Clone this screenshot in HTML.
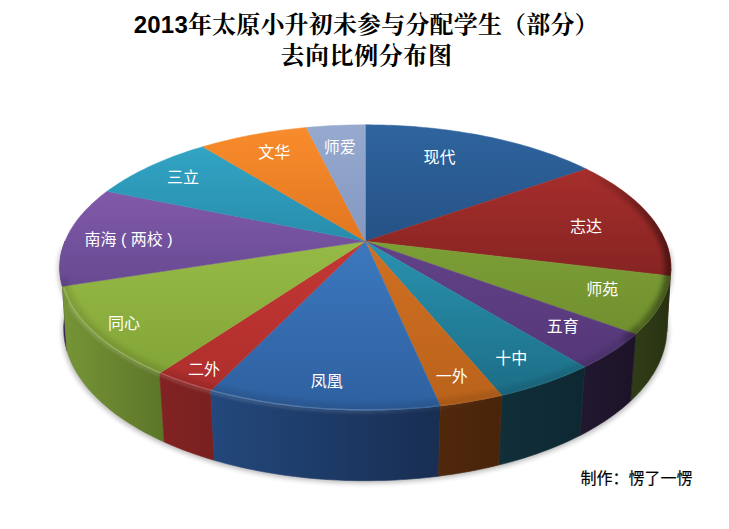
<!DOCTYPE html>
<html lang="zh-CN">
<head>
<meta charset="utf-8">
<title>2013年太原小升初未参与分配学生（部分）去向比例分布图</title>
<style>
html,body{margin:0;padding:0;background:#fff;}
body{width:729px;height:529px;overflow:hidden;font-family:"Liberation Sans",sans-serif;}
svg{display:block;}
.rt{font-family:"Liberation Sans","Noto Sans CJK SC",sans-serif;}
.tt{font-family:"Liberation Sans","Noto Serif CJK SC",serif;}
</style>
</head>
<body>
<svg width="729" height="529" viewBox="0 0 729 529">
<defs>
<filter id="blur" x="-20%" y="-20%" width="140%" height="140%"><feGaussianBlur stdDeviation="2.5"/></filter>
<filter id="blur3" x="-20%" y="-20%" width="140%" height="140%"><feGaussianBlur stdDeviation="2.5"/></filter>
<filter id="blur2" x="-5%" y="-20%" width="110%" height="140%"><feGaussianBlur stdDeviation="1"/></filter>
<linearGradient id="topG" x1="0" y1="0" x2="0" y2="1"><stop offset="0" stop-color="#fff" stop-opacity="0"/><stop offset="1" stop-color="#fff" stop-opacity="0"/></linearGradient><linearGradient id="rimG" gradientUnits="userSpaceOnUse" x1="60" y1="0" x2="670" y2="0"><stop offset="0" stop-color="#fff" stop-opacity="0.22"/><stop offset="0.5" stop-color="#fff" stop-opacity="0.2"/><stop offset="0.66" stop-color="#fff" stop-opacity="0.03"/><stop offset="1" stop-color="#fff" stop-opacity="0"/></linearGradient><linearGradient id="sd1_0" gradientUnits="userSpaceOnUse" x1="670.4" y1="0" x2="670.8" y2="0"><stop offset="0" stop-color="#701e1e"/><stop offset="1" stop-color="#701e1e"/></linearGradient>
<linearGradient id="sd9_162" gradientUnits="userSpaceOnUse" x1="60.2" y1="0" x2="62.4" y2="0"><stop offset="0" stop-color="#3c285a"/><stop offset="1" stop-color="#3c285a"/></linearGradient>
<linearGradient id="sd2_11" gradientUnits="userSpaceOnUse" x1="635.6" y1="0" x2="670.4" y2="0"><stop offset="0" stop-color="#303c17"/><stop offset="1" stop-color="#283212"/></linearGradient>
<linearGradient id="sd8_125" gradientUnits="userSpaceOnUse" x1="62.4" y1="0" x2="159.7" y2="0"><stop offset="0" stop-color="#769536"/><stop offset="1" stop-color="#5d7729"/></linearGradient>
<linearGradient id="sd3_36" gradientUnits="userSpaceOnUse" x1="584.7" y1="0" x2="635.6" y2="0"><stop offset="0" stop-color="#21172f"/><stop offset="1" stop-color="#1c1328"/></linearGradient>
<linearGradient id="sd4_51" gradientUnits="userSpaceOnUse" x1="501.8" y1="0" x2="584.7" y2="0"><stop offset="0" stop-color="#112f39"/><stop offset="1" stop-color="#0e2832"/></linearGradient>
<linearGradient id="sd7_115" gradientUnits="userSpaceOnUse" x1="159.7" y1="0" x2="210.7" y2="0"><stop offset="0" stop-color="#822222"/><stop offset="1" stop-color="#7a2020"/></linearGradient>
<linearGradient id="sd6_78" gradientUnits="userSpaceOnUse" x1="210.7" y1="0" x2="440.3" y2="0"><stop offset="0" stop-color="#23487c"/><stop offset="1" stop-color="#182e52"/></linearGradient>
<linearGradient id="sd5_67" gradientUnits="userSpaceOnUse" x1="440.3" y1="0" x2="501.8" y2="0"><stop offset="0" stop-color="#50280c"/><stop offset="1" stop-color="#48240a"/></linearGradient>
<clipPath id="sideclip"><path d="M665.6 241.3 L666.5 243.7 L667.3 246.1 L668.1 248.6 L668.7 251.0 L669.3 253.5 L669.8 256.0 L670.2 258.5 L670.5 261.0 L670.7 263.5 L670.8 266.0 L670.8 268.6 L670.7 271.1 L670.5 273.7 L670.2 276.2 L669.9 278.8 L669.4 281.4 L668.8 283.9 L668.1 286.5 L667.3 289.1 L666.4 291.7 L665.4 294.2 L664.3 296.8 L663.1 299.4 L661.8 302.0 L660.4 304.5 L658.9 307.1 L657.3 309.6 L655.5 312.2 L653.7 314.7 L651.7 317.3 L649.7 319.8 L647.5 322.3 L645.2 324.8 L642.8 327.3 L640.3 329.8 L637.7 332.2 L635.0 334.7 L632.2 337.1 L629.3 339.5 L626.2 341.9 L623.1 344.2 L619.8 346.6 L616.5 348.9 L613.0 351.2 L609.4 353.5 L605.7 355.7 L602.0 357.9 L598.1 360.1 L594.1 362.2 L590.0 364.3 L585.8 366.4 L581.6 368.5 L577.2 370.5 L572.7 372.5 L568.1 374.4 L563.5 376.3 L558.7 378.1 L553.9 379.9 L548.9 381.7 L543.9 383.4 L538.8 385.1 L533.6 386.8 L528.4 388.4 L523.0 389.9 L517.6 391.4 L512.1 392.8 L506.6 394.2 L501.0 395.6 L495.3 396.8 L489.5 398.1 L483.7 399.2 L477.8 400.4 L471.9 401.4 L465.9 402.4 L459.8 403.4 L453.8 404.3 L447.6 405.1 L441.5 405.9 L435.2 406.6 L429.0 407.3 L422.7 407.9 L416.4 408.4 L410.1 408.9 L403.7 409.3 L397.4 409.6 L391.0 409.9 L384.6 410.1 L378.1 410.3 L371.7 410.4 L365.3 410.4 L358.9 410.4 L352.5 410.3 L346.0 410.1 L339.6 409.9 L333.2 409.6 L326.9 409.3 L320.5 408.9 L314.2 408.4 L307.9 407.9 L301.6 407.3 L295.4 406.6 L289.1 405.9 L283.0 405.1 L276.8 404.3 L270.8 403.4 L264.7 402.4 L258.7 401.4 L252.8 400.4 L246.9 399.2 L241.1 398.1 L235.3 396.8 L229.6 395.6 L224.0 394.2 L218.5 392.8 L213.0 391.4 L207.6 389.9 L202.2 388.4 L197.0 386.8 L191.8 385.1 L186.7 383.4 L181.7 381.7 L176.7 379.9 L171.9 378.1 L167.1 376.3 L162.5 374.4 L157.9 372.5 L153.4 370.5 L149.0 368.5 L144.8 366.4 L140.6 364.3 L136.5 362.2 L132.5 360.1 L128.6 357.9 L124.9 355.7 L121.2 353.5 L117.6 351.2 L114.1 348.9 L110.8 346.6 L107.5 344.2 L104.4 341.9 L101.3 339.5 L98.4 337.1 L95.6 334.7 L92.9 332.2 L90.3 329.8 L87.8 327.3 L85.4 324.8 L83.1 322.3 L80.9 319.8 L78.9 317.3 L76.9 314.7 L75.1 312.2 L73.3 309.6 L71.7 307.1 L70.2 304.5 L68.8 302.0 L67.5 299.4 L66.3 296.8 L65.2 294.2 L64.2 291.7 L63.3 289.1 L62.5 286.5 L61.8 283.9 L61.2 281.4 L60.7 278.8 L60.4 276.2 L60.1 273.7 L59.9 271.1 L59.8 268.6 L59.8 266.0 L59.9 263.5 L60.1 261.0 L60.4 258.5 L60.8 256.0 L61.3 253.5 L61.9 251.0 L62.5 248.6 L63.3 246.1 L64.1 243.7 L65.0 241.3 L68.0 303.0 L67.2 305.6 L66.5 308.2 L65.8 310.8 L65.3 313.4 L64.8 316.0 L64.4 318.6 L64.1 321.3 L63.9 323.9 L63.8 326.6 L63.7 329.3 L63.8 331.9 L64.0 334.6 L64.2 337.3 L64.6 340.0 L65.0 342.7 L65.6 345.4 L66.2 348.2 L67.0 350.9 L67.8 353.6 L68.8 356.3 L69.8 359.0 L71.0 361.7 L72.2 364.5 L73.6 367.2 L75.0 369.9 L76.6 372.6 L78.3 375.3 L80.0 378.0 L81.9 380.6 L83.9 383.3 L86.0 385.9 L88.2 388.6 L90.5 391.2 L92.9 393.8 L95.4 396.4 L98.0 399.0 L100.7 401.6 L103.5 404.1 L106.4 406.6 L109.5 409.1 L112.6 411.6 L115.8 414.1 L119.2 416.5 L122.6 418.9 L126.1 421.3 L129.8 423.6 L133.5 425.9 L137.3 428.2 L141.3 430.4 L145.3 432.7 L149.4 434.8 L153.7 437.0 L158.0 439.1 L162.4 441.1 L166.9 443.2 L171.5 445.1 L176.1 447.1 L180.9 449.0 L185.7 450.8 L190.7 452.6 L195.7 454.4 L200.8 456.1 L205.9 457.7 L211.2 459.3 L216.5 460.9 L221.8 462.4 L227.3 463.9 L232.8 465.3 L238.4 466.6 L244.0 467.9 L249.7 469.1 L255.4 470.3 L261.2 471.4 L267.1 472.4 L273.0 473.4 L278.9 474.4 L284.9 475.2 L291.0 476.0 L297.0 476.8 L303.1 477.5 L309.3 478.1 L315.4 478.6 L321.6 479.1 L327.8 479.5 L334.0 479.9 L340.3 480.2 L346.5 480.4 L352.8 480.6 L359.0 480.7 L365.3 480.7 L371.6 480.7 L377.8 480.6 L384.1 480.4 L390.3 480.2 L396.6 479.9 L402.8 479.5 L409.0 479.1 L415.2 478.6 L421.3 478.1 L427.5 477.5 L433.6 476.8 L439.6 476.0 L445.7 475.2 L451.7 474.4 L457.6 473.4 L463.5 472.4 L469.4 471.4 L475.2 470.3 L480.9 469.1 L486.6 467.9 L492.2 466.6 L497.8 465.3 L503.3 463.9 L508.8 462.4 L514.1 460.9 L519.4 459.3 L524.7 457.7 L529.8 456.1 L534.9 454.4 L539.9 452.6 L544.9 450.8 L549.7 449.0 L554.5 447.1 L559.1 445.1 L563.7 443.2 L568.2 441.1 L572.6 439.1 L576.9 437.0 L581.2 434.8 L585.3 432.7 L589.3 430.4 L593.3 428.2 L597.1 425.9 L600.8 423.6 L604.5 421.3 L608.0 418.9 L611.4 416.5 L614.8 414.1 L618.0 411.6 L621.1 409.1 L624.2 406.6 L627.1 404.1 L629.9 401.6 L632.6 399.0 L635.2 396.4 L637.7 393.8 L640.1 391.2 L642.4 388.6 L644.6 385.9 L646.7 383.3 L648.7 380.6 L650.6 378.0 L652.3 375.3 L654.0 372.6 L655.6 369.9 L657.0 367.2 L658.4 364.5 L659.6 361.7 L660.8 359.0 L661.8 356.3 L662.8 353.6 L663.6 350.9 L664.4 348.2 L665.0 345.4 L665.6 342.7 L666.0 340.0 L666.4 337.3 L666.6 334.6 L666.8 331.9 L666.9 329.3 L666.8 326.6 L666.7 323.9 L666.5 321.3 L666.2 318.6 L665.8 316.0 L665.3 313.4 L664.8 310.8 L664.1 308.2 L663.4 305.6 L662.6 303.0Z"/></clipPath>
<linearGradient id="bevG" gradientUnits="userSpaceOnUse" x1="60" y1="0" x2="670" y2="0"><stop offset="0" stop-color="#fff" stop-opacity="0.15"/><stop offset="0.5" stop-color="#fff" stop-opacity="0.10"/><stop offset="0.7" stop-color="#fff" stop-opacity="0"/></linearGradient>
<linearGradient id="tp0" x1="0" y1="0" x2="0" y2="1"><stop offset="0" stop-color="#2f649e"/><stop offset="1" stop-color="#255286"/></linearGradient>
<linearGradient id="tp1" x1="0" y1="0" x2="0" y2="1"><stop offset="0" stop-color="#a62e2c"/><stop offset="1" stop-color="#862422"/></linearGradient>
<linearGradient id="tp2" x1="0" y1="0" x2="0" y2="1"><stop offset="0" stop-color="#7c9e36"/><stop offset="1" stop-color="#70902e"/></linearGradient>
<linearGradient id="tp3" x1="0" y1="0" x2="0" y2="1"><stop offset="0" stop-color="#624288"/><stop offset="1" stop-color="#543778"/></linearGradient>
<linearGradient id="tp4" x1="0" y1="0" x2="0" y2="1"><stop offset="0" stop-color="#2a92b0"/><stop offset="1" stop-color="#1c6e86"/></linearGradient>
<linearGradient id="tp5" x1="0" y1="0" x2="0" y2="1"><stop offset="0" stop-color="#d07022"/><stop offset="1" stop-color="#ba621b"/></linearGradient>
<linearGradient id="tp6" x1="0" y1="0" x2="0" y2="1"><stop offset="0" stop-color="#3c78be"/><stop offset="1" stop-color="#2e60a0"/></linearGradient>
<linearGradient id="tp7" x1="0" y1="0" x2="0" y2="1"><stop offset="0" stop-color="#c43734"/><stop offset="1" stop-color="#ae2e2c"/></linearGradient>
<linearGradient id="tp8" x1="0" y1="0" x2="0" y2="1"><stop offset="0" stop-color="#96ba46"/><stop offset="1" stop-color="#83a538"/></linearGradient>
<linearGradient id="tp9" x1="0" y1="0" x2="0" y2="1"><stop offset="0" stop-color="#815aaa"/><stop offset="1" stop-color="#674991"/></linearGradient>
<linearGradient id="tp10" x1="0" y1="0" x2="0" y2="1"><stop offset="0" stop-color="#32a4c4"/><stop offset="1" stop-color="#288dac"/></linearGradient>
<linearGradient id="tp11" x1="0" y1="0" x2="0" y2="1"><stop offset="0" stop-color="#f88c2c"/><stop offset="1" stop-color="#e27620"/></linearGradient>
<linearGradient id="tp12" x1="0" y1="0" x2="0" y2="1"><stop offset="0" stop-color="#96aad0"/><stop offset="1" stop-color="#8498c0"/></linearGradient>
<clipPath id="topclip"><path d="M665.6 241.3 L666.5 243.7 L667.3 246.1 L668.1 248.6 L668.7 251.0 L669.3 253.5 L669.8 256.0 L670.2 258.5 L670.5 261.0 L670.7 263.5 L670.8 266.0 L670.8 268.6 L670.7 271.1 L670.5 273.7 L670.2 276.2 L669.9 278.8 L669.4 281.4 L668.8 283.9 L668.1 286.5 L667.3 289.1 L666.4 291.7 L665.4 294.2 L664.3 296.8 L663.1 299.4 L661.8 302.0 L660.4 304.5 L658.9 307.1 L657.3 309.6 L655.5 312.2 L653.7 314.7 L651.7 317.3 L649.7 319.8 L647.5 322.3 L645.2 324.8 L642.8 327.3 L640.3 329.8 L637.7 332.2 L635.0 334.7 L632.2 337.1 L629.3 339.5 L626.2 341.9 L623.1 344.2 L619.8 346.6 L616.5 348.9 L613.0 351.2 L609.4 353.5 L605.7 355.7 L602.0 357.9 L598.1 360.1 L594.1 362.2 L590.0 364.3 L585.8 366.4 L581.6 368.5 L577.2 370.5 L572.7 372.5 L568.1 374.4 L563.5 376.3 L558.7 378.1 L553.9 379.9 L548.9 381.7 L543.9 383.4 L538.8 385.1 L533.6 386.8 L528.4 388.4 L523.0 389.9 L517.6 391.4 L512.1 392.8 L506.6 394.2 L501.0 395.6 L495.3 396.8 L489.5 398.1 L483.7 399.2 L477.8 400.4 L471.9 401.4 L465.9 402.4 L459.8 403.4 L453.8 404.3 L447.6 405.1 L441.5 405.9 L435.2 406.6 L429.0 407.3 L422.7 407.9 L416.4 408.4 L410.1 408.9 L403.7 409.3 L397.4 409.6 L391.0 409.9 L384.6 410.1 L378.1 410.3 L371.7 410.4 L365.3 410.4 L358.9 410.4 L352.5 410.3 L346.0 410.1 L339.6 409.9 L333.2 409.6 L326.9 409.3 L320.5 408.9 L314.2 408.4 L307.9 407.9 L301.6 407.3 L295.4 406.6 L289.1 405.9 L283.0 405.1 L276.8 404.3 L270.8 403.4 L264.7 402.4 L258.7 401.4 L252.8 400.4 L246.9 399.2 L241.1 398.1 L235.3 396.8 L229.6 395.6 L224.0 394.2 L218.5 392.8 L213.0 391.4 L207.6 389.9 L202.2 388.4 L197.0 386.8 L191.8 385.1 L186.7 383.4 L181.7 381.7 L176.7 379.9 L171.9 378.1 L167.1 376.3 L162.5 374.4 L157.9 372.5 L153.4 370.5 L149.0 368.5 L144.8 366.4 L140.6 364.3 L136.5 362.2 L132.5 360.1 L128.6 357.9 L124.9 355.7 L121.2 353.5 L117.6 351.2 L114.1 348.9 L110.8 346.6 L107.5 344.2 L104.4 341.9 L101.3 339.5 L98.4 337.1 L95.6 334.7 L92.9 332.2 L90.3 329.8 L87.8 327.3 L85.4 324.8 L83.1 322.3 L80.9 319.8 L78.9 317.3 L76.9 314.7 L75.1 312.2 L73.3 309.6 L71.7 307.1 L70.2 304.5 L68.8 302.0 L67.5 299.4 L66.3 296.8 L65.2 294.2 L64.2 291.7 L63.3 289.1 L62.5 286.5 L61.8 283.9 L61.2 281.4 L60.7 278.8 L60.4 276.2 L60.1 273.7 L59.9 271.1 L59.8 268.6 L59.8 266.0 L59.9 263.5 L60.1 261.0 L60.4 258.5 L60.8 256.0 L61.3 253.5 L61.9 251.0 L62.5 248.6 L63.3 246.1 L64.1 243.7 L65.0 241.3 L66.0 238.9 L67.1 236.5 L68.3 234.1 L69.5 231.8 L70.9 229.5 L72.3 227.2 L73.8 224.9 L75.4 222.6 L77.0 220.3 L78.7 218.1 L80.5 215.9 L82.4 213.7 L84.4 211.5 L86.4 209.3 L88.4 207.2 L90.6 205.1 L92.8 203.0 L95.1 201.0 L97.4 198.9 L99.8 196.9 L102.3 194.9 L104.9 193.0 L107.4 191.0 L110.1 189.1 L112.8 187.2 L115.6 185.3 L118.4 183.5 L121.3 181.7 L124.2 179.9 L127.2 178.1 L130.2 176.4 L133.3 174.7 L136.4 173.0 L139.6 171.4 L142.8 169.7 L146.1 168.1 L149.4 166.6 L152.8 165.0 L156.2 163.5 L159.6 162.0 L163.1 160.5 L166.6 159.1 L170.2 157.7 L173.8 156.3 L177.4 155.0 L181.1 153.7 L184.8 152.4 L188.6 151.1 L192.3 149.9 L196.1 148.7 L200.0 147.5 L203.9 146.4 L207.8 145.3 L211.7 144.2 L215.6 143.1 L219.6 142.1 L223.6 141.1 L227.7 140.1 L231.7 139.2 L235.8 138.3 L239.9 137.4 L244.0 136.5 L248.2 135.7 L252.4 134.9 L256.5 134.2 L260.8 133.4 L265.0 132.7 L269.2 132.0 L273.5 131.4 L277.7 130.8 L282.0 130.2 L286.3 129.7 L290.7 129.1 L295.0 128.6 L299.3 128.2 L303.7 127.7 L308.0 127.3 L312.4 127.0 L316.8 126.6 L321.2 126.3 L325.6 126.0 L330.0 125.8 L334.4 125.5 L338.8 125.3 L343.2 125.2 L347.6 125.0 L352.0 124.9 L356.4 124.9 L360.9 124.8 L365.3 124.8 L369.7 124.8 L374.2 124.9 L378.6 124.9 L383.0 125.0 L387.4 125.2 L391.8 125.3 L396.2 125.5 L400.6 125.8 L405.0 126.0 L409.4 126.3 L413.8 126.6 L418.2 127.0 L422.6 127.3 L426.9 127.7 L431.3 128.2 L435.6 128.6 L439.9 129.1 L444.3 129.7 L448.6 130.2 L452.9 130.8 L457.1 131.4 L461.4 132.0 L465.6 132.7 L469.8 133.4 L474.1 134.2 L478.2 134.9 L482.4 135.7 L486.6 136.5 L490.7 137.4 L494.8 138.3 L498.9 139.2 L502.9 140.1 L507.0 141.1 L511.0 142.1 L515.0 143.1 L518.9 144.2 L522.8 145.3 L526.7 146.4 L530.6 147.5 L534.5 148.7 L538.3 149.9 L542.0 151.1 L545.8 152.4 L549.5 153.7 L553.2 155.0 L556.8 156.3 L560.4 157.7 L564.0 159.1 L567.5 160.5 L571.0 162.0 L574.4 163.5 L577.8 165.0 L581.2 166.6 L584.5 168.1 L587.8 169.7 L591.0 171.4 L594.2 173.0 L597.3 174.7 L600.4 176.4 L603.4 178.1 L606.4 179.9 L609.3 181.7 L612.2 183.5 L615.0 185.3 L617.8 187.2 L620.5 189.1 L623.2 191.0 L625.7 193.0 L628.3 194.9 L630.8 196.9 L633.2 198.9 L635.5 201.0 L637.8 203.0 L640.0 205.1 L642.2 207.2 L644.2 209.3 L646.2 211.5 L648.2 213.7 L650.1 215.9 L651.9 218.1 L653.6 220.3 L655.2 222.6 L656.8 224.9 L658.3 227.2 L659.7 229.5 L661.1 231.8 L662.3 234.1 L663.5 236.5 L664.6 238.9 L665.6 241.3Z"/></clipPath>
<linearGradient id="rdG" gradientUnits="userSpaceOnUse" x1="585.0" y1="0" x2="672.0" y2="0"><stop offset="0" stop-color="#000" stop-opacity="0"/><stop offset="1" stop-color="#000" stop-opacity="0.45"/></linearGradient>
</defs>
<rect width="729" height="529" fill="#fff"/>
<path d="M667.1 243.8 L668.0 246.2 L668.9 248.6 L669.6 251.1 L670.3 253.5 L670.8 256.0 L671.3 258.5 L671.7 261.0 L672.0 263.5 L672.2 266.0 L672.3 268.5 L672.3 271.1 L672.2 273.6 L672.1 276.2 L671.8 278.7 L671.4 281.3 L670.9 283.9 L670.3 286.4 L669.6 289.0 L668.8 291.6 L667.9 294.2 L666.9 296.7 L665.8 299.3 L664.6 301.9 L663.3 304.5 L661.9 307.0 L660.4 309.6 L658.7 312.1 L657.0 314.7 L655.1 317.2 L653.2 319.8 L651.1 322.3 L648.9 324.8 L646.6 327.3 L644.2 329.8 L641.7 332.3 L639.1 334.7 L636.4 337.2 L633.5 339.6 L630.6 342.0 L627.5 344.4 L624.4 346.7 L621.1 349.1 L617.7 351.4 L614.2 353.7 L610.6 356.0 L607.0 358.2 L603.2 360.4 L599.3 362.6 L595.2 364.7 L591.1 366.8 L586.9 368.9 L582.6 371.0 L578.2 373.0 L573.7 375.0 L569.1 376.9 L564.5 378.8 L559.7 380.6 L554.8 382.4 L549.9 384.2 L544.8 385.9 L539.7 387.6 L534.5 389.3 L529.2 390.9 L523.8 392.4 L518.4 393.9 L512.9 395.3 L507.3 396.7 L501.6 398.1 L495.9 399.3 L490.1 400.6 L484.3 401.7 L478.4 402.9 L472.4 403.9 L466.4 404.9 L460.3 405.9 L454.2 406.8 L448.0 407.6 L441.8 408.4 L435.6 409.1 L429.3 409.8 L423.0 410.4 L416.7 410.9 L410.3 411.4 L403.9 411.8 L397.5 412.1 L391.1 412.4 L384.7 412.6 L378.2 412.8 L371.8 412.9 L365.3 412.9 L358.8 412.9 L352.4 412.8 L345.9 412.6 L339.5 412.4 L333.1 412.1 L326.7 411.8 L320.3 411.4 L313.9 410.9 L307.6 410.4 L301.3 409.8 L295.0 409.1 L288.8 408.4 L282.6 407.6 L276.4 406.8 L270.3 405.9 L264.2 404.9 L258.2 403.9 L252.2 402.9 L246.3 401.7 L240.5 400.6 L234.7 399.3 L229.0 398.1 L223.3 396.7 L217.7 395.3 L212.2 393.9 L206.8 392.4 L201.4 390.9 L196.1 389.3 L190.9 387.6 L185.8 385.9 L180.7 384.2 L175.8 382.4 L170.9 380.6 L166.1 378.8 L161.5 376.9 L156.9 375.0 L152.4 373.0 L148.0 371.0 L143.7 368.9 L139.5 366.8 L135.4 364.7 L131.3 362.6 L127.4 360.4 L123.6 358.2 L120.0 356.0 L116.4 353.7 L112.9 351.4 L109.5 349.1 L106.2 346.7 L103.1 344.4 L100.0 342.0 L97.1 339.6 L94.2 337.2 L91.5 334.7 L88.9 332.3 L86.4 329.8 L84.0 327.3 L81.7 324.8 L79.5 322.3 L77.4 319.8 L75.5 317.2 L73.6 314.7 L71.9 312.1 L70.2 309.6 L68.7 307.0 L67.3 304.5 L66.0 301.9 L64.8 299.3 L63.7 296.7 L62.7 294.2 L61.8 291.6 L61.0 289.0 L60.3 286.4 L59.7 283.9 L59.2 281.3 L58.8 278.7 L58.5 276.2 L58.4 273.6 L58.3 271.1 L58.3 268.5 L58.4 266.0 L58.6 263.5 L58.9 261.0 L59.3 258.5 L59.8 256.0 L60.3 253.5 L61.0 251.1 L61.7 248.6 L62.6 246.2 L63.5 243.8 L66.5 305.5 L65.7 308.1 L65.0 310.7 L64.3 313.3 L63.8 315.9 L63.3 318.5 L62.9 321.1 L62.6 323.8 L62.4 326.4 L62.3 329.1 L62.2 331.8 L62.3 334.4 L62.5 337.1 L62.7 339.8 L63.1 342.5 L63.5 345.2 L64.1 347.9 L64.7 350.7 L65.5 353.4 L66.3 356.1 L67.3 358.8 L68.4 361.5 L69.5 364.2 L70.8 367.0 L72.1 369.7 L73.6 372.4 L75.2 375.1 L76.8 377.8 L78.6 380.5 L80.5 383.1 L82.5 385.8 L84.6 388.4 L86.8 391.1 L89.1 393.7 L91.5 396.3 L94.0 398.9 L96.6 401.5 L99.4 404.1 L102.2 406.6 L105.1 409.1 L108.2 411.6 L111.3 414.1 L114.6 416.6 L117.9 419.0 L121.4 421.4 L124.9 423.8 L128.6 426.1 L132.4 428.4 L136.2 430.7 L140.2 432.9 L144.2 435.2 L148.4 437.3 L152.6 439.5 L156.9 441.6 L161.4 443.6 L165.9 445.7 L170.5 447.6 L175.2 449.6 L180.0 451.5 L184.8 453.3 L189.8 455.1 L194.8 456.9 L199.9 458.6 L205.1 460.2 L210.4 461.8 L215.7 463.4 L221.1 464.9 L226.6 466.4 L232.1 467.8 L237.7 469.1 L243.4 470.4 L249.1 471.6 L254.9 472.8 L260.7 473.9 L266.6 474.9 L272.5 475.9 L278.5 476.9 L284.5 477.7 L290.6 478.5 L296.7 479.3 L302.8 480.0 L309.0 480.6 L315.2 481.1 L321.4 481.6 L327.6 482.0 L333.9 482.4 L340.1 482.7 L346.4 482.9 L352.7 483.1 L359.0 483.2 L365.3 483.2 L371.6 483.2 L377.9 483.1 L384.2 482.9 L390.5 482.7 L396.7 482.4 L403.0 482.0 L409.2 481.6 L415.4 481.1 L421.6 480.6 L427.8 480.0 L433.9 479.3 L440.0 478.5 L446.1 477.7 L452.1 476.9 L458.1 475.9 L464.0 474.9 L469.9 473.9 L475.7 472.8 L481.5 471.6 L487.2 470.4 L492.9 469.1 L498.5 467.8 L504.0 466.4 L509.5 464.9 L514.9 463.4 L520.2 461.8 L525.5 460.2 L530.7 458.6 L535.8 456.9 L540.8 455.1 L545.8 453.3 L550.6 451.5 L555.4 449.6 L560.1 447.6 L564.7 445.7 L569.2 443.6 L573.7 441.6 L578.0 439.5 L582.2 437.3 L586.4 435.2 L590.4 432.9 L594.4 430.7 L598.2 428.4 L602.0 426.1 L605.7 423.8 L609.2 421.4 L612.7 419.0 L616.0 416.6 L619.3 414.1 L622.4 411.6 L625.5 409.1 L628.4 406.6 L631.2 404.1 L634.0 401.5 L636.6 398.9 L639.1 396.3 L641.5 393.7 L643.8 391.1 L646.0 388.4 L648.1 385.8 L650.1 383.1 L652.0 380.5 L653.8 377.8 L655.4 375.1 L657.0 372.4 L658.5 369.7 L659.8 367.0 L661.1 364.2 L662.2 361.5 L663.3 358.8 L664.3 356.1 L665.1 353.4 L665.9 350.7 L666.5 347.9 L667.1 345.2 L667.5 342.5 L667.9 339.8 L668.1 337.1 L668.3 334.4 L668.4 331.8 L668.3 329.1 L668.2 326.4 L668.0 323.8 L667.7 321.1 L667.3 318.5 L666.8 315.9 L666.3 313.3 L665.6 310.7 L664.9 308.1 L664.1 305.5Z" fill="#000" opacity="0.27" filter="url(#blur)"/>
<path d="M665.6 241.3 L666.5 243.7 L667.3 246.1 L668.1 248.6 L668.7 251.0 L669.3 253.5 L669.8 256.0 L670.2 258.5 L670.5 261.0 L670.7 263.5 L670.8 266.0 L670.8 268.6 L666.8 331.9 L666.9 329.3 L666.8 326.6 L666.7 323.9 L666.5 321.3 L666.2 318.6 L665.8 316.0 L665.3 313.4 L664.8 310.8 L664.1 308.2 L663.4 305.6 L662.6 303.0Z" fill="url(#sd1_0)" stroke="url(#sd1_0)" stroke-width="0.6"/>
<path d="M62.4 286.3 L61.7 283.6 L61.1 280.9 L60.6 278.2 L60.3 275.5 L60.0 272.8 L59.8 270.1 L59.8 267.4 L59.9 264.8 L60.0 262.1 L60.3 259.5 L60.7 256.8 L61.1 254.2 L61.7 251.6 L62.4 249.0 L63.2 246.4 L64.0 243.8 L65.0 241.3 L68.0 303.0 L67.2 305.7 L66.4 308.5 L65.7 311.2 L65.1 313.9 L64.7 316.7 L64.3 319.5 L64.0 322.3 L63.8 325.1 L63.7 327.9 L63.8 330.7 L63.9 333.6 L64.1 336.4 L64.5 339.3 L64.9 342.1 L65.5 345.0 L66.2 347.8 L66.9 350.7Z" fill="url(#sd9_162)" stroke="url(#sd9_162)" stroke-width="0.6"/>
<path d="M670.8 268.6 L670.7 271.2 L670.5 273.8 L670.2 276.5 L669.8 279.1 L669.3 281.8 L668.7 284.4 L668.0 287.1 L667.1 289.7 L666.2 292.4 L665.1 295.1 L663.9 297.7 L662.7 300.4 L661.3 303.0 L659.7 305.7 L658.1 308.3 L656.4 311.0 L654.5 313.6 L652.6 316.2 L650.5 318.8 L648.3 321.4 L646.0 324.0 L643.5 326.6 L641.0 329.1 L638.3 331.7 L635.6 334.2 L630.5 401.1 L633.2 398.4 L635.9 395.7 L638.5 393.1 L640.9 390.4 L643.2 387.6 L645.4 384.9 L647.6 382.2 L649.5 379.4 L651.4 376.6 L653.2 373.9 L654.9 371.1 L656.4 368.3 L657.9 365.5 L659.2 362.7 L660.4 359.9 L661.5 357.1 L662.5 354.3 L663.4 351.5 L664.2 348.7 L664.9 345.9 L665.5 343.1 L666.0 340.3 L666.3 337.5 L666.6 334.7 L666.8 331.9Z" fill="url(#sd2_11)" stroke="url(#sd2_11)" stroke-width="0.6"/>
<path d="M159.7 373.2 L155.1 371.2 L150.7 369.2 L146.3 367.2 L142.0 365.1 L137.9 362.9 L133.8 360.8 L129.8 358.6 L126.0 356.3 L122.2 354.1 L118.6 351.8 L115.0 349.5 L111.6 347.2 L108.3 344.8 L105.1 342.4 L102.0 340.0 L99.0 337.6 L96.1 335.1 L93.3 332.6 L90.7 330.1 L88.1 327.6 L85.7 325.1 L83.4 322.6 L81.1 320.1 L79.0 317.5 L77.1 314.9 L75.2 312.4 L73.4 309.8 L71.8 307.2 L70.2 304.6 L68.8 302.0 L67.4 299.4 L66.2 296.8 L65.1 294.2 L64.1 291.5 L63.2 288.9 L62.4 286.3 L66.9 350.7 L67.8 353.4 L68.7 356.2 L69.8 358.9 L71.0 361.7 L72.2 364.4 L73.6 367.2 L75.1 369.9 L76.7 372.7 L78.4 375.4 L80.2 378.1 L82.1 380.8 L84.1 383.5 L86.2 386.2 L88.4 388.9 L90.8 391.5 L93.2 394.2 L95.8 396.8 L98.4 399.4 L101.2 402.0 L104.1 404.6 L107.0 407.1 L110.1 409.7 L113.3 412.2 L116.6 414.7 L120.0 417.1 L123.5 419.5 L127.2 421.9 L130.9 424.3 L134.7 426.6 L138.6 428.9 L142.6 431.2 L146.7 433.4 L151.0 435.6 L155.3 437.8 L159.7 439.9 L164.2 441.9Z" fill="url(#sd8_125)" stroke="url(#sd8_125)" stroke-width="0.6"/>
<path d="M635.6 334.2 L632.7 336.7 L629.7 339.2 L626.5 341.6 L623.3 344.1 L619.9 346.5 L616.5 348.9 L612.9 351.3 L609.2 353.6 L605.4 355.9 L601.5 358.2 L597.5 360.4 L593.3 362.6 L589.1 364.8 L584.7 367.0 L580.1 435.4 L584.4 433.2 L588.5 430.9 L592.6 428.6 L596.6 426.2 L600.5 423.8 L604.2 421.4 L607.9 419.0 L611.4 416.5 L614.9 414.0 L618.2 411.4 L621.5 408.9 L624.6 406.3 L627.6 403.7 L630.5 401.1Z" fill="url(#sd3_36)" stroke="url(#sd3_36)" stroke-width="0.6"/>
<path d="M584.7 367.0 L580.3 369.1 L575.7 371.1 L571.0 373.2 L566.2 375.2 L561.4 377.1 L556.4 379.0 L551.3 380.9 L546.2 382.7 L540.9 384.4 L535.6 386.2 L530.2 387.8 L524.6 389.4 L519.0 391.0 L513.4 392.5 L507.6 394.0 L501.8 395.4 L498.6 465.0 L504.3 463.6 L510.0 462.1 L515.5 460.5 L521.0 458.9 L526.4 457.2 L531.7 455.5 L537.0 453.7 L542.1 451.8 L547.2 449.9 L552.2 448.0 L557.1 446.0 L561.9 444.0 L566.6 441.9 L571.2 439.8 L575.7 437.6 L580.1 435.4Z" fill="url(#sd4_51)" stroke="url(#sd4_51)" stroke-width="0.6"/>
<path d="M210.7 390.8 L205.3 389.2 L199.8 387.6 L194.5 386.0 L189.3 384.3 L184.1 382.6 L179.1 380.8 L174.1 379.0 L169.2 377.1 L164.4 375.2 L159.7 373.2 L164.2 441.9 L168.8 444.0 L173.5 446.0 L178.3 447.9 L183.2 449.9 L188.2 451.7 L193.2 453.5 L198.4 455.3 L203.6 457.0 L208.9 458.7 L214.3 460.3Z" fill="url(#sd7_115)" stroke="url(#sd7_115)" stroke-width="0.6"/>
<path d="M440.3 406.0 L434.1 406.7 L427.8 407.4 L421.5 408.0 L415.1 408.5 L408.7 408.9 L402.3 409.3 L395.9 409.7 L389.5 410.0 L383.0 410.2 L376.6 410.3 L370.1 410.4 L363.7 410.4 L357.2 410.4 L350.7 410.2 L344.3 410.1 L337.9 409.8 L331.4 409.5 L325.0 409.2 L318.6 408.7 L312.3 408.2 L305.9 407.7 L299.6 407.1 L293.3 406.4 L287.1 405.6 L280.9 404.8 L274.8 404.0 L268.7 403.1 L262.6 402.1 L256.6 401.1 L250.6 400.0 L244.7 398.8 L238.9 397.6 L233.1 396.3 L227.4 395.0 L221.8 393.7 L216.2 392.2 L210.7 390.8 L214.3 460.3 L219.7 461.8 L225.1 463.3 L230.6 464.7 L236.2 466.1 L241.9 467.4 L247.6 468.7 L253.3 469.8 L259.2 471.0 L265.0 472.1 L270.9 473.1 L276.9 474.0 L282.9 474.9 L289.0 475.8 L295.1 476.5 L301.2 477.2 L307.4 477.9 L313.5 478.5 L319.8 479.0 L326.0 479.4 L332.2 479.8 L338.5 480.1 L344.8 480.4 L351.1 480.6 L357.4 480.7 L363.7 480.7 L370.0 480.7 L376.3 480.6 L382.6 480.5 L388.9 480.3 L395.2 480.0 L401.5 479.6 L407.7 479.2 L413.9 478.7 L420.1 478.2 L426.3 477.6 L432.4 476.9 L438.5 476.2Z" fill="url(#sd6_78)" stroke="url(#sd6_78)" stroke-width="0.6"/>
<path d="M501.8 395.4 L495.9 396.7 L490.0 398.0 L484.0 399.2 L477.9 400.3 L471.8 401.4 L465.6 402.5 L459.3 403.5 L453.1 404.4 L446.7 405.2 L440.3 406.0 L438.5 476.2 L444.8 475.3 L451.0 474.5 L457.1 473.5 L463.2 472.5 L469.3 471.4 L475.3 470.3 L481.2 469.0 L487.1 467.8 L492.9 466.4 L498.6 465.0Z" fill="url(#sd5_67)" stroke="url(#sd5_67)" stroke-width="0.6"/>
<g clip-path="url(#sideclip)"><path d="M670.4 276.5 L670.1 279.0 L669.6 281.6 L669.1 284.1 L668.5 286.7 L667.7 289.3 L666.9 291.9 L666.0 294.4 L664.9 297.0 L663.8 299.6 L662.5 302.2 L661.1 304.7 L659.7 307.3 L658.1 309.9 L656.4 312.4 L654.6 315.0 L652.7 317.5 L650.7 320.0 L648.6 322.6 L646.4 325.1 L644.0 327.6 L641.6 330.0 L639.0 332.5 L636.4 335.0 L633.6 337.4 L630.7 339.8 L627.8 342.2 L624.7 344.6 L621.5 346.9 L618.2 349.2 L614.7 351.5 L611.2 353.8 L607.6 356.1 L603.9 358.3 L600.0 360.5 L596.1 362.7 L592.1 364.8 L587.9 366.9 L583.7 368.9 L579.4 371.0 L575.0 373.0 L570.4 374.9 L565.8 376.8 L561.1 378.7 L556.3 380.5 L551.4 382.3 L546.5 384.1 L541.4 385.8 L536.3 387.5 L531.0 389.1 L525.7 390.6 L520.3 392.1 L514.9 393.6 L509.4 395.0 L503.8 396.4 L498.1 397.7 L492.4 399.0 L486.6 400.2 L480.7 401.3 L474.8 402.4 L468.9 403.4 L462.9 404.4 L456.8 405.3 L450.7 406.2 L444.5 407.0 L438.4 407.8 L432.1 408.4 L425.9 409.1 L419.6 409.6 L413.3 410.1 L406.9 410.6 L400.5 410.9 L394.2 411.3 L387.8 411.5 L381.4 411.7 L374.9 411.8 L368.5 411.9 L362.1 411.9 L355.7 411.8 L349.2 411.7 L342.8 411.5 L336.4 411.3 L330.1 410.9 L323.7 410.6 L317.3 410.1 L311.0 409.6 L304.7 409.1 L298.5 408.4 L292.2 407.8 L286.1 407.0 L279.9 406.2 L273.8 405.3 L267.7 404.4 L261.7 403.4 L255.8 402.4 L249.9 401.3 L244.0 400.2 L238.2 399.0 L232.5 397.7 L226.8 396.4 L221.2 395.0 L215.7 393.6 L210.3 392.1 L204.9 390.6 L199.6 389.1 L194.3 387.5 L189.2 385.8 L184.1 384.1 L179.2 382.3 L174.3 380.5 L169.5 378.7 L164.8 376.8 L160.2 374.9 L155.6 373.0 L151.2 371.0 L146.9 368.9 L142.7 366.9 L138.5 364.8 L134.5 362.7 L130.6 360.5 L126.7 358.3 L123.0 356.1 L119.4 353.8 L115.9 351.5 L112.4 349.2 L109.1 346.9 L105.9 344.6 L102.8 342.2 L99.9 339.8 L97.0 337.4 L94.2 335.0 L91.6 332.5 L89.0 330.0 L86.6 327.6 L84.2 325.1 L82.0 322.6 L79.9 320.0 L77.9 317.5 L76.0 315.0 L74.2 312.4 L72.5 309.9 L70.9 307.3 L69.5 304.7 L68.1 302.2 L66.8 299.6 L65.7 297.0 L64.6 294.4 L63.7 291.9 L62.9 289.3 L62.1 286.7 L61.5 284.1 L61.0 281.6 L60.5 279.0 L60.2 276.5" fill="none" stroke="url(#bevG)" stroke-width="3.0" filter="url(#blur2)"/></g>
<path d="M365.3 241.3 L365.3 124.8 L369.8 124.8 L374.2 124.9 L378.7 124.9 L383.2 125.0 L387.6 125.2 L392.1 125.3 L396.6 125.5 L401.0 125.8 L405.5 126.0 L409.9 126.3 L414.3 126.6 L418.7 127.0 L423.2 127.4 L427.6 127.8 L432.0 128.2 L436.3 128.7 L440.7 129.2 L445.1 129.8 L449.4 130.3 L453.7 130.9 L458.1 131.5 L462.3 132.2 L466.6 132.9 L470.9 133.6 L475.1 134.3 L479.4 135.1 L483.6 135.9 L487.8 136.8 L491.9 137.6 L496.1 138.5 L500.2 139.5 L504.3 140.4 L508.3 141.4 L512.4 142.4 L516.4 143.5 L520.4 144.6 L524.3 145.7 L528.3 146.8 L532.2 148.0 L536.0 149.2 L539.9 150.4 L543.7 151.7 L547.4 153.0 L551.2 154.3 L554.9 155.6 L558.5 157.0 L562.1 158.4 L565.7 159.8 L569.3 161.3 L572.8 162.8 L576.2 164.3 L579.6 165.8 L583.0 167.4 L586.3 169.0Z" fill="url(#tp0)" stroke="url(#tp0)" stroke-width="0.5" stroke-linejoin="round"/>
<path d="M365.3 241.3 L586.3 169.0 L589.6 170.7 L592.8 172.3 L596.0 174.0 L599.1 175.7 L602.2 177.4 L605.2 179.2 L608.2 181.0 L611.1 182.8 L614.0 184.6 L616.8 186.5 L619.5 188.4 L622.2 190.3 L624.8 192.3 L627.4 194.2 L629.9 196.2 L632.4 198.3 L634.8 200.3 L637.1 202.4 L639.3 204.5 L641.5 206.6 L643.6 208.7 L645.7 210.9 L647.6 213.1 L649.5 215.3 L651.4 217.5 L653.1 219.7 L654.8 222.0 L656.4 224.3 L657.9 226.6 L659.4 228.9 L660.7 231.3 L662.0 233.6 L663.2 236.0 L664.4 238.4 L665.4 240.8 L666.3 243.2 L667.2 245.7 L668.0 248.1 L668.6 250.6 L669.2 253.1 L669.7 255.6 L670.1 258.1 L670.4 260.6 L670.7 263.2 L670.8 265.7 L670.8 268.3 L670.7 270.8 L670.6 273.4 L670.3 275.9Z" fill="url(#tp1)" stroke="url(#tp1)" stroke-width="0.5" stroke-linejoin="round"/>
<path d="M365.3 241.3 L670.3 275.9 L669.9 278.6 L669.4 281.3 L668.8 284.0 L668.1 286.6 L667.3 289.3 L666.3 292.0 L665.3 294.7 L664.1 297.4 L662.8 300.1 L661.4 302.7 L659.9 305.4 L658.3 308.1 L656.5 310.7 L654.7 313.4 L652.7 316.0 L650.6 318.7 L648.4 321.3 L646.1 323.9 L643.6 326.5 L641.0 329.1 L638.4 331.6 L635.6 334.2Z" fill="url(#tp2)" stroke="url(#tp2)" stroke-width="0.5" stroke-linejoin="round"/>
<path d="M365.3 241.3 L635.6 334.2 L632.7 336.7 L629.7 339.2 L626.5 341.6 L623.3 344.1 L619.9 346.5 L616.5 348.9 L612.9 351.3 L609.2 353.6 L605.4 355.9 L601.5 358.2 L597.5 360.4 L593.3 362.6 L589.1 364.8 L584.7 367.0Z" fill="url(#tp3)" stroke="url(#tp3)" stroke-width="0.5" stroke-linejoin="round"/>
<path d="M365.3 241.3 L584.7 367.0 L580.3 369.1 L575.7 371.1 L571.0 373.2 L566.2 375.2 L561.4 377.1 L556.4 379.0 L551.3 380.9 L546.2 382.7 L540.9 384.4 L535.6 386.2 L530.2 387.8 L524.6 389.4 L519.0 391.0 L513.4 392.5 L507.6 394.0 L501.8 395.4Z" fill="url(#tp4)" stroke="url(#tp4)" stroke-width="0.5" stroke-linejoin="round"/>
<path d="M365.3 241.3 L501.8 395.4 L495.9 396.7 L490.0 398.0 L484.0 399.2 L477.9 400.3 L471.8 401.4 L465.6 402.5 L459.3 403.5 L453.1 404.4 L446.7 405.2 L440.3 406.0Z" fill="url(#tp5)" stroke="url(#tp5)" stroke-width="0.5" stroke-linejoin="round"/>
<path d="M365.3 241.3 L440.3 406.0 L434.1 406.7 L427.8 407.4 L421.5 408.0 L415.1 408.5 L408.7 408.9 L402.3 409.3 L395.9 409.7 L389.5 410.0 L383.0 410.2 L376.6 410.3 L370.1 410.4 L363.7 410.4 L357.2 410.4 L350.7 410.2 L344.3 410.1 L337.9 409.8 L331.4 409.5 L325.0 409.2 L318.6 408.7 L312.3 408.2 L305.9 407.7 L299.6 407.1 L293.3 406.4 L287.1 405.6 L280.9 404.8 L274.8 404.0 L268.7 403.1 L262.6 402.1 L256.6 401.1 L250.6 400.0 L244.7 398.8 L238.9 397.6 L233.1 396.3 L227.4 395.0 L221.8 393.7 L216.2 392.2 L210.7 390.8Z" fill="url(#tp6)" stroke="url(#tp6)" stroke-width="0.5" stroke-linejoin="round"/>
<path d="M365.3 241.3 L210.7 390.8 L205.3 389.2 L199.8 387.6 L194.5 386.0 L189.3 384.3 L184.1 382.6 L179.1 380.8 L174.1 379.0 L169.2 377.1 L164.4 375.2 L159.7 373.2Z" fill="url(#tp7)" stroke="url(#tp7)" stroke-width="0.5" stroke-linejoin="round"/>
<path d="M365.3 241.3 L159.7 373.2 L155.1 371.2 L150.7 369.2 L146.3 367.2 L142.0 365.1 L137.9 362.9 L133.8 360.8 L129.8 358.6 L126.0 356.3 L122.2 354.1 L118.6 351.8 L115.0 349.5 L111.6 347.2 L108.3 344.8 L105.1 342.4 L102.0 340.0 L99.0 337.6 L96.1 335.1 L93.3 332.6 L90.7 330.1 L88.1 327.6 L85.7 325.1 L83.4 322.6 L81.1 320.1 L79.0 317.5 L77.1 314.9 L75.2 312.4 L73.4 309.8 L71.8 307.2 L70.2 304.6 L68.8 302.0 L67.4 299.4 L66.2 296.8 L65.1 294.2 L64.1 291.5 L63.2 288.9 L62.4 286.3Z" fill="url(#tp8)" stroke="url(#tp8)" stroke-width="0.5" stroke-linejoin="round"/>
<path d="M365.3 241.3 L62.4 286.3 L61.7 283.7 L61.2 281.1 L60.7 278.5 L60.3 275.9 L60.0 273.3 L59.9 270.7 L59.8 268.1 L59.8 265.5 L60.0 262.9 L60.2 260.3 L60.5 257.8 L60.9 255.3 L61.5 252.7 L62.1 250.2 L62.8 247.7 L63.6 245.2 L64.5 242.8 L65.4 240.3 L66.5 237.9 L67.6 235.4 L68.9 233.0 L70.2 230.6 L71.6 228.3 L73.1 225.9 L74.7 223.6 L76.3 221.3 L78.0 219.0 L79.8 216.7 L81.7 214.5 L83.7 212.3 L85.7 210.1 L87.8 207.9 L90.0 205.7 L92.2 203.6 L94.5 201.5 L96.9 199.4 L99.3 197.3 L101.8 195.3 L104.4 193.3 L107.0 191.3Z" fill="url(#tp9)" stroke="url(#tp9)" stroke-width="0.5" stroke-linejoin="round"/>
<path d="M365.3 241.3 L107.0 191.3 L109.8 189.3 L112.5 187.4 L115.4 185.5 L118.3 183.6 L121.3 181.7 L124.3 179.8 L127.4 178.0 L130.5 176.2 L133.7 174.5 L136.9 172.7 L140.2 171.0 L143.6 169.4 L146.9 167.7 L150.4 166.1 L153.9 164.5 L157.4 163.0 L161.0 161.4 L164.6 159.9 L168.2 158.5 L171.9 157.0 L175.7 155.6 L179.4 154.3 L183.3 152.9 L187.1 151.6 L191.0 150.3 L194.9 149.1 L198.9 147.9 L202.8 146.7Z" fill="url(#tp10)" stroke="url(#tp10)" stroke-width="0.5" stroke-linejoin="round"/>
<path d="M365.3 241.3 L202.8 146.7 L206.9 145.5 L210.9 144.4 L215.0 143.3 L219.2 142.2 L223.3 141.2 L227.5 140.2 L231.7 139.2 L235.9 138.2 L240.2 137.3 L244.5 136.4 L248.7 135.6 L253.1 134.8 L257.4 134.0 L261.8 133.2 L266.2 132.5 L270.6 131.8 L275.0 131.2 L279.4 130.6 L283.8 130.0 L288.3 129.4 L292.8 128.9 L297.3 128.4 L301.8 127.9 L306.3 127.5Z" fill="url(#tp11)" stroke="url(#tp11)" stroke-width="0.5" stroke-linejoin="round"/>
<path d="M365.3 241.3 L306.3 127.5 L310.8 127.1 L315.3 126.7 L319.8 126.4 L324.3 126.1 L328.9 125.8 L333.4 125.6 L338.0 125.4 L342.5 125.2 L347.1 125.1 L351.6 124.9 L356.2 124.9 L360.7 124.8 L365.3 124.8Z" fill="url(#tp12)" stroke="url(#tp12)" stroke-width="0.5" stroke-linejoin="round"/>
<path d="M665.6 241.3 L666.5 243.7 L667.3 246.1 L668.1 248.6 L668.7 251.0 L669.3 253.5 L669.8 256.0 L670.2 258.5 L670.5 261.0 L670.7 263.5 L670.8 266.0 L670.8 268.6 L670.7 271.1 L670.5 273.7 L670.2 276.2 L669.9 278.8 L669.4 281.4 L668.8 283.9 L668.1 286.5 L667.3 289.1 L666.4 291.7 L665.4 294.2 L664.3 296.8 L663.1 299.4 L661.8 302.0 L660.4 304.5 L658.9 307.1 L657.3 309.6 L655.5 312.2 L653.7 314.7 L651.7 317.3 L649.7 319.8 L647.5 322.3 L645.2 324.8 L642.8 327.3 L640.3 329.8 L637.7 332.2 L635.0 334.7 L632.2 337.1 L629.3 339.5 L626.2 341.9 L623.1 344.2 L619.8 346.6 L616.5 348.9 L613.0 351.2 L609.4 353.5 L605.7 355.7 L602.0 357.9 L598.1 360.1 L594.1 362.2 L590.0 364.3 L585.8 366.4 L581.6 368.5 L577.2 370.5 L572.7 372.5 L568.1 374.4 L563.5 376.3 L558.7 378.1 L553.9 379.9 L548.9 381.7 L543.9 383.4 L538.8 385.1 L533.6 386.8 L528.4 388.4 L523.0 389.9 L517.6 391.4 L512.1 392.8 L506.6 394.2 L501.0 395.6 L495.3 396.8 L489.5 398.1 L483.7 399.2 L477.8 400.4 L471.9 401.4 L465.9 402.4 L459.8 403.4 L453.8 404.3 L447.6 405.1 L441.5 405.9 L435.2 406.6 L429.0 407.3 L422.7 407.9 L416.4 408.4 L410.1 408.9 L403.7 409.3 L397.4 409.6 L391.0 409.9 L384.6 410.1 L378.1 410.3 L371.7 410.4 L365.3 410.4 L358.9 410.4 L352.5 410.3 L346.0 410.1 L339.6 409.9 L333.2 409.6 L326.9 409.3 L320.5 408.9 L314.2 408.4 L307.9 407.9 L301.6 407.3 L295.4 406.6 L289.1 405.9 L283.0 405.1 L276.8 404.3 L270.8 403.4 L264.7 402.4 L258.7 401.4 L252.8 400.4 L246.9 399.2 L241.1 398.1 L235.3 396.8 L229.6 395.6 L224.0 394.2 L218.5 392.8 L213.0 391.4 L207.6 389.9 L202.2 388.4 L197.0 386.8 L191.8 385.1 L186.7 383.4 L181.7 381.7 L176.7 379.9 L171.9 378.1 L167.1 376.3 L162.5 374.4 L157.9 372.5 L153.4 370.5 L149.0 368.5 L144.8 366.4 L140.6 364.3 L136.5 362.2 L132.5 360.1 L128.6 357.9 L124.9 355.7 L121.2 353.5 L117.6 351.2 L114.1 348.9 L110.8 346.6 L107.5 344.2 L104.4 341.9 L101.3 339.5 L98.4 337.1 L95.6 334.7 L92.9 332.2 L90.3 329.8 L87.8 327.3 L85.4 324.8 L83.1 322.3 L80.9 319.8 L78.9 317.3 L76.9 314.7 L75.1 312.2 L73.3 309.6 L71.7 307.1 L70.2 304.5 L68.8 302.0 L67.5 299.4 L66.3 296.8 L65.2 294.2 L64.2 291.7 L63.3 289.1 L62.5 286.5 L61.8 283.9 L61.2 281.4 L60.7 278.8 L60.4 276.2 L60.1 273.7 L59.9 271.1 L59.8 268.6 L59.8 266.0 L59.9 263.5 L60.1 261.0 L60.4 258.5 L60.8 256.0 L61.3 253.5 L61.9 251.0 L62.5 248.6 L63.3 246.1 L64.1 243.7 L65.0 241.3 L66.0 238.9 L67.1 236.5 L68.3 234.1 L69.5 231.8 L70.9 229.5 L72.3 227.2 L73.8 224.9 L75.4 222.6 L77.0 220.3 L78.7 218.1 L80.5 215.9 L82.4 213.7 L84.4 211.5 L86.4 209.3 L88.4 207.2 L90.6 205.1 L92.8 203.0 L95.1 201.0 L97.4 198.9 L99.8 196.9 L102.3 194.9 L104.9 193.0 L107.4 191.0 L110.1 189.1 L112.8 187.2 L115.6 185.3 L118.4 183.5 L121.3 181.7 L124.2 179.9 L127.2 178.1 L130.2 176.4 L133.3 174.7 L136.4 173.0 L139.6 171.4 L142.8 169.7 L146.1 168.1 L149.4 166.6 L152.8 165.0 L156.2 163.5 L159.6 162.0 L163.1 160.5 L166.6 159.1 L170.2 157.7 L173.8 156.3 L177.4 155.0 L181.1 153.7 L184.8 152.4 L188.6 151.1 L192.3 149.9 L196.1 148.7 L200.0 147.5 L203.9 146.4 L207.8 145.3 L211.7 144.2 L215.6 143.1 L219.6 142.1 L223.6 141.1 L227.7 140.1 L231.7 139.2 L235.8 138.3 L239.9 137.4 L244.0 136.5 L248.2 135.7 L252.4 134.9 L256.5 134.2 L260.8 133.4 L265.0 132.7 L269.2 132.0 L273.5 131.4 L277.7 130.8 L282.0 130.2 L286.3 129.7 L290.7 129.1 L295.0 128.6 L299.3 128.2 L303.7 127.7 L308.0 127.3 L312.4 127.0 L316.8 126.6 L321.2 126.3 L325.6 126.0 L330.0 125.8 L334.4 125.5 L338.8 125.3 L343.2 125.2 L347.6 125.0 L352.0 124.9 L356.4 124.9 L360.9 124.8 L365.3 124.8 L369.7 124.8 L374.2 124.9 L378.6 124.9 L383.0 125.0 L387.4 125.2 L391.8 125.3 L396.2 125.5 L400.6 125.8 L405.0 126.0 L409.4 126.3 L413.8 126.6 L418.2 127.0 L422.6 127.3 L426.9 127.7 L431.3 128.2 L435.6 128.6 L439.9 129.1 L444.3 129.7 L448.6 130.2 L452.9 130.8 L457.1 131.4 L461.4 132.0 L465.6 132.7 L469.8 133.4 L474.1 134.2 L478.2 134.9 L482.4 135.7 L486.6 136.5 L490.7 137.4 L494.8 138.3 L498.9 139.2 L502.9 140.1 L507.0 141.1 L511.0 142.1 L515.0 143.1 L518.9 144.2 L522.8 145.3 L526.7 146.4 L530.6 147.5 L534.5 148.7 L538.3 149.9 L542.0 151.1 L545.8 152.4 L549.5 153.7 L553.2 155.0 L556.8 156.3 L560.4 157.7 L564.0 159.1 L567.5 160.5 L571.0 162.0 L574.4 163.5 L577.8 165.0 L581.2 166.6 L584.5 168.1 L587.8 169.7 L591.0 171.4 L594.2 173.0 L597.3 174.7 L600.4 176.4 L603.4 178.1 L606.4 179.9 L609.3 181.7 L612.2 183.5 L615.0 185.3 L617.8 187.2 L620.5 189.1 L623.2 191.0 L625.7 193.0 L628.3 194.9 L630.8 196.9 L633.2 198.9 L635.5 201.0 L637.8 203.0 L640.0 205.1 L642.2 207.2 L644.2 209.3 L646.2 211.5 L648.2 213.7 L650.1 215.9 L651.9 218.1 L653.6 220.3 L655.2 222.6 L656.8 224.9 L658.3 227.2 L659.7 229.5 L661.1 231.8 L662.3 234.1 L663.5 236.5 L664.6 238.9 L665.6 241.3Z" fill="url(#topG)"/>
<g clip-path="url(#topclip)"><path d="M553.2 155.0 L556.8 156.3 L560.4 157.7 L564.0 159.1 L567.5 160.5 L571.0 162.0 L574.4 163.5 L577.8 165.0 L581.2 166.6 L584.5 168.1 L587.8 169.7 L591.0 171.4 L594.2 173.0 L597.3 174.7 L600.4 176.4 L603.4 178.1 L606.4 179.9 L609.3 181.7 L612.2 183.5 L615.0 185.3 L617.8 187.2 L620.5 189.1 L623.2 191.0 L625.7 193.0 L628.3 194.9 L630.8 196.9 L633.2 198.9 L635.5 201.0 L637.8 203.0 L640.0 205.1 L642.2 207.2 L644.2 209.3 L646.2 211.5 L648.2 213.7 L650.1 215.9 L651.9 218.1 L653.6 220.3 L655.2 222.6 L656.8 224.9 L658.3 227.2 L659.7 229.5 L661.1 231.8 L662.3 234.1 L663.5 236.5 L664.6 238.9 L665.6 241.3 L666.5 243.7 L667.3 246.1 L668.1 248.6 L668.7 251.0 L669.3 253.5 L669.8 256.0 L670.2 258.5 L670.5 261.0 L670.7 263.5 L670.8 266.0 L670.8 268.6 L670.7 271.1 L670.5 273.7 L670.2 276.2 L669.9 278.8 L669.4 281.4 L668.8 283.9 L668.1 286.5 L667.3 289.1 L666.4 291.7 L665.4 294.2 L664.3 296.8 L663.1 299.4 L661.8 302.0 L660.4 304.5 L658.9 307.1 L657.3 309.6 L655.5 312.2 L653.7 314.7 L651.7 317.3 L649.7 319.8 L647.5 322.3 L645.2 324.8 L642.8 327.3 L640.3 329.8 L637.7 332.2 L635.0 334.7 L632.2 337.1 L629.3 339.5 L626.2 341.9" fill="none" stroke="url(#rdG)" stroke-width="12.0" filter="url(#blur3)"/></g>
<g clip-path="url(#topclip)"><path d="M640.3 329.8 L637.7 332.2 L635.0 334.7 L632.2 337.1 L629.3 339.5 L626.2 341.9 L623.1 344.2 L619.8 346.6 L616.5 348.9 L613.0 351.2 L609.4 353.5 L605.7 355.7 L602.0 357.9 L598.1 360.1 L594.1 362.2 L590.0 364.3 L585.8 366.4 L581.6 368.5 L577.2 370.5 L572.7 372.5 L568.1 374.4 L563.5 376.3 L558.7 378.1 L553.9 379.9 L548.9 381.7 L543.9 383.4 L538.8 385.1 L533.6 386.8 L528.4 388.4 L523.0 389.9 L517.6 391.4 L512.1 392.8 L506.6 394.2 L501.0 395.6 L495.3 396.8 L489.5 398.1 L483.7 399.2 L477.8 400.4 L471.9 401.4 L465.9 402.4 L459.8 403.4 L453.8 404.3 L447.6 405.1 L441.5 405.9 L435.2 406.6 L429.0 407.3 L422.7 407.9 L416.4 408.4 L410.1 408.9 L403.7 409.3 L397.4 409.6 L391.0 409.9 L384.6 410.1 L378.1 410.3 L371.7 410.4 L365.3 410.4 L358.9 410.4 L352.5 410.3 L346.0 410.1 L339.6 409.9 L333.2 409.6 L326.9 409.3 L320.5 408.9 L314.2 408.4 L307.9 407.9 L301.6 407.3 L295.4 406.6 L289.1 405.9 L283.0 405.1 L276.8 404.3 L270.8 403.4 L264.7 402.4 L258.7 401.4 L252.8 400.4 L246.9 399.2 L241.1 398.1 L235.3 396.8 L229.6 395.6 L224.0 394.2 L218.5 392.8 L213.0 391.4 L207.6 389.9 L202.2 388.4 L197.0 386.8 L191.8 385.1 L186.7 383.4 L181.7 381.7 L176.7 379.9 L171.9 378.1 L167.1 376.3 L162.5 374.4 L157.9 372.5 L153.4 370.5 L149.0 368.5 L144.8 366.4 L140.6 364.3 L136.5 362.2 L132.5 360.1 L128.6 357.9 L124.9 355.7 L121.2 353.5 L117.6 351.2 L114.1 348.9 L110.8 346.6 L107.5 344.2 L104.4 341.9 L101.3 339.5 L98.4 337.1 L95.6 334.7 L92.9 332.2 L90.3 329.8 L87.8 327.3 L85.4 324.8 L83.1 322.3 L80.9 319.8 L78.9 317.3 L76.9 314.7 L75.1 312.2 L73.3 309.6 L71.7 307.1 L70.2 304.5 L68.8 302.0 L67.5 299.4 L66.3 296.8 L65.2 294.2 L64.2 291.7 L63.3 289.1 L62.5 286.5 L61.8 283.9 L61.2 281.4 L60.7 278.8" fill="none" stroke="#000" stroke-opacity="0.10" stroke-width="14.0" filter="url(#blur3)"/></g>
<path d="M669.4 274.8 L669.1 277.4 L668.7 280.0 L668.1 282.5 L667.5 285.1 L666.8 287.6 L665.9 290.2 L665.0 292.8 L663.9 295.3 L662.8 297.9 L661.5 300.5 L660.2 303.0 L658.7 305.6 L657.1 308.1 L655.5 310.7 L653.7 313.2 L651.8 315.8 L649.8 318.3 L647.7 320.8 L645.4 323.3 L643.1 325.8 L640.7 328.2 L638.1 330.7 L635.5 333.1 L632.7 335.6 L629.8 338.0 L626.9 340.4 L623.8 342.7 L620.6 345.1 L617.3 347.4 L613.9 349.7 L610.4 351.9 L606.8 354.2 L603.0 356.4 L599.2 358.6 L595.3 360.7 L591.3 362.9 L587.2 365.0 L582.9 367.0 L578.6 369.0 L574.2 371.0 L569.7 373.0 L565.1 374.9 L560.4 376.7 L555.6 378.6 L550.8 380.3 L545.8 382.1 L540.8 383.8 L535.6 385.4 L530.4 387.0 L525.2 388.6 L519.8 390.1 L514.4 391.6 L508.9 393.0 L503.3 394.3 L497.6 395.6 L491.9 396.9 L486.2 398.1 L480.3 399.2 L474.4 400.3 L468.5 401.4 L462.5 402.3 L456.5 403.3 L450.4 404.1 L444.3 404.9 L438.1 405.7 L431.9 406.3 L425.6 407.0 L419.4 407.5 L413.1 408.0 L406.8 408.5 L400.4 408.8 L394.1 409.1 L387.7 409.4 L381.3 409.6 L374.9 409.7 L368.5 409.8 L362.1 409.8 L355.7 409.7 L349.3 409.6 L342.9 409.4 L336.5 409.1 L330.2 408.8 L323.8 408.5 L317.5 408.0 L311.2 407.5 L305.0 407.0 L298.7 406.3 L292.5 405.7 L286.3 404.9 L280.2 404.1 L274.1 403.3 L268.1 402.3 L262.1 401.4 L256.2 400.3 L250.3 399.2 L244.4 398.1 L238.7 396.9 L233.0 395.6 L227.3 394.3 L221.8 393.0 L216.2 391.6 L210.8 390.1 L205.4 388.6 L200.2 387.0 L195.0 385.4 L189.8 383.8 L184.8 382.1 L179.8 380.3 L175.0 378.6 L170.2 376.7 L165.5 374.9 L160.9 373.0 L156.4 371.0 L152.0 369.0 L147.7 367.0 L143.4 365.0 L139.3 362.9 L135.3 360.7 L131.4 358.6 L127.6 356.4 L123.8 354.2 L120.2 351.9 L116.7 349.7 L113.3 347.4 L110.0 345.1 L106.8 342.7 L103.7 340.4 L100.8 338.0 L97.9 335.6 L95.1 333.1 L92.5 330.7 L89.9 328.2 L87.5 325.8 L85.2 323.3 L82.9 320.8 L80.8 318.3 L78.8 315.8 L76.9 313.2 L75.1 310.7 L73.5 308.1 L71.9 305.6 L70.4 303.0 L69.1 300.5 L67.8 297.9 L66.7 295.3 L65.6 292.8 L64.7 290.2 L63.8 287.6" fill="none" stroke="url(#rimG)" stroke-width="1.2"/>
<g aria-label="text">
<text x="366.2" y="33.0" text-anchor="middle" font-size="24.0" font-weight="bold" fill="#000" textLength="464.8" lengthAdjust="spacing" class="tt">2013年太原小升初未参与分配学生（部分）</text>
<text x="366.2" y="64.0" text-anchor="middle" font-size="24.0" font-weight="bold" fill="#000" textLength="171.5" lengthAdjust="spacing" class="tt">去向比例分布图</text>
<text x="439.4" y="162.7" text-anchor="middle" font-size="16.0" fill="#fff" class="rt">现代</text>
<text x="585.9" y="232.0" text-anchor="middle" font-size="16.0" fill="#fff" class="rt">志达</text>
<text x="602.2" y="295.3" text-anchor="middle" font-size="16.0" fill="#fff" class="rt">师苑</text>
<text x="562.8" y="331.6" text-anchor="middle" font-size="16.0" fill="#fff" class="rt">五育</text>
<text x="511.2" y="364.4" text-anchor="middle" font-size="16.0" fill="#fff" class="rt">十中</text>
<text x="451.8" y="382.2" text-anchor="middle" font-size="16.0" fill="#fff" class="rt">一外</text>
<text x="326.8" y="387.0" text-anchor="middle" font-size="16.0" fill="#fff" class="rt">凤凰</text>
<text x="204.0" y="374.7" text-anchor="middle" font-size="16.0" fill="#fff" class="rt">二外</text>
<text x="124.0" y="329.4" text-anchor="middle" font-size="16.0" fill="#fff" class="rt">同心</text>
<text x="183.0" y="183.2" text-anchor="middle" font-size="16.0" fill="#fff" class="rt">三立</text>
<text x="274.2" y="157.9" text-anchor="middle" font-size="16.0" fill="#fff" class="rt">文华</text>
<text x="339.8" y="153.0" text-anchor="middle" font-size="16.0" fill="#fff" class="rt">师爱</text>
<text x="128.5" y="244.6" text-anchor="middle" font-size="16.0" fill="#fff" class="rt">南海 ( 两校 )</text>
<text x="580.4" y="484.0" font-size="16.0" fill="#000" stroke="#000" stroke-width="0.18" class="rt">制作：愣了一愣</text>
</g>
</svg>
</body>
</html>
